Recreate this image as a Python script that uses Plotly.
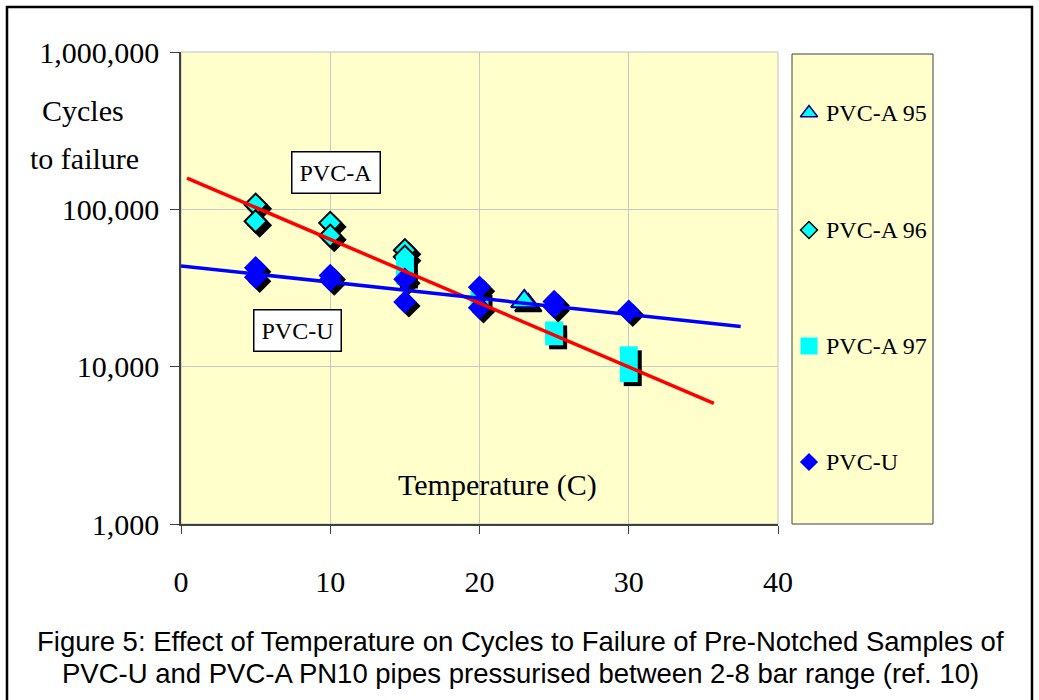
import numpy as np
import plotly.graph_objects as go

# ---------------- data ----------------
temp_a95 = [23]
cyc_a95 = [26000]

temp_a96 = [5, 5, 10, 10, 15, 15]
cyc_a96 = [107000, 84000, 82000, 68000, 55000, 50000]

temp_a97 = [15, 15, 20, 25, 25, 30, 30]
cyc_a97 = [44000, 38000, 26500, 17000, 15600, 11800, 9100]

temp_u = [5, 5, 10, 10, 15, 15, 20, 20, 25, 25, 30]
cyc_u = [42500, 37000, 38000, 35500, 36000, 25800, 32000, 23700, 26000, 24000, 22500]

# exponential trend lines  y = a * exp(b * T), drawn over a temperature range
trend_a_range = [0.4, 35.7]
trend_a_coef = [164000, -0.0934]
trend_u_range = [0.0, 37.5]
trend_u_coef = [43650, -0.02365]

x_ticks = [0, 10, 20, 30, 40]
y_ticks = [1000, 10000, 100000, 1000000]
y_tick_text = ["1,000", "10,000", "100,000", "1,000,000"]

legend_names = ["PVC-A 95", "PVC-A 96", "PVC-A 97", "PVC-U"]

# ---------------- layout geometry ----------------
W, H = 1039, 700
PL, PR, PT, PB = 181, 778, 52, 524          # plot area in pixels
LG_L, LG_R, LG_T, LG_B = 792, 933, 54, 524  # legend box in pixels

def px(x):
    return x / W

def py(y):
    return 1 - y / H

XR = [0, 40]
YR = [3, 6]
px_per_x = (PR - PL) / (XR[1] - XR[0])
px_per_dec = (PB - PT) / (YR[1] - YR[0])
SH = 4  # shadow offset in pixels
sh_dx = SH / px_per_x
sh_fy = 10 ** (-SH / px_per_dec)

CYAN = "#00FFFF"
BLUE = "#0000FF"
NAVY = "#000080"

fig = go.Figure()

def add_series(xs, ys, symbol, size, color, line_color, line_width):
    xs = np.array(xs, dtype=float)
    ys = np.array(ys, dtype=float)
    fig.add_trace(go.Scatter(
        x=xs + sh_dx, y=ys * sh_fy, mode="markers", showlegend=False,
        hoverinfo="skip",
        marker=dict(symbol=symbol, size=size, color="black",
                    line=dict(color="black", width=line_width)),
        xaxis="x", yaxis="y"))
    fig.add_trace(go.Scatter(
        x=xs, y=ys, mode="markers", showlegend=False,
        marker=dict(symbol=symbol, size=size, color=color,
                    line=dict(color=line_color, width=line_width)),
        xaxis="x", yaxis="y"))

add_series(temp_a95, cyc_a95, "triangle-up", 23, CYAN, NAVY, 2)
add_series(temp_a96, cyc_a96, "diamond", 17, CYAN, "black", 2)
add_series(temp_a97, cyc_a97, "square", 18, CYAN, CYAN, 0)
add_series(temp_u, cyc_u, "diamond", 18, BLUE, BLUE, 0)

for rng, coef, col in [(trend_a_range, trend_a_coef, "#FF0000"),
                       (trend_u_range, trend_u_coef, BLUE)]:
    tx = np.array(rng, dtype=float)
    ty = coef[0] * np.exp(coef[1] * tx)
    fig.add_trace(go.Scatter(x=tx, y=ty, mode="lines", showlegend=False,
                             hoverinfo="skip",
                             line=dict(color=col, width=3.5),
                             xaxis="x", yaxis="y"))

# ---------------- custom legend ----------------
leg_y_px = [113, 230, 346, 462]
leg_marker_x = (809 - LG_L) / (LG_R - LG_L)
leg_styles = [
    dict(symbol="triangle-up", size=15, color=CYAN, line=dict(color=NAVY, width=1.5)),
    dict(symbol="diamond", size=13, color=CYAN, line=dict(color="black", width=1.5)),
    dict(symbol="square", size=17, color=CYAN, line=dict(width=0)),
    dict(symbol="diamond", size=14, color=BLUE, line=dict(width=0)),
]
for name, ypx, st in zip(legend_names, leg_y_px, leg_styles):
    fig.add_trace(go.Scatter(x=[leg_marker_x], y=[(LG_B - ypx) / (LG_B - LG_T)],
                             mode="markers", marker=st, showlegend=False,
                             hoverinfo="skip", xaxis="x2", yaxis="y2"))

annotations = []
for name, ypx in zip(legend_names, leg_y_px):
    annotations.append(dict(x=px(824), y=py(ypx), xref="paper", yref="paper",
                            text=name, showarrow=False, xanchor="left",
                            yanchor="middle",
                            font=dict(family="Liberation Serif", size=24, color="black")))

serif = "Liberation Serif"

def label(xp, yp, text, size, family=serif, **kw):
    d = dict(x=px(xp), y=py(yp), xref="paper", yref="paper", text=text,
             showarrow=False, xanchor="center", yanchor="middle",
             font=dict(family=family, size=size, color="black"))
    d.update(kw)
    return d

annotations += [
    label(83, 110, "Cycles", 30),
    label(84, 158, "to failure", 30),
    label(497, 485, "Temperature (C)", 30),
    label(336, 172, "PVC-A", 24, bgcolor="white", bordercolor="black",
          borderwidth=1.5, borderpad=7),
    label(297, 330, "PVC-U", 24, bgcolor="white", bordercolor="black",
          borderwidth=1.5, borderpad=7),
    label(520, 641,
          "Figure 5: Effect of Temperature on Cycles to Failure of Pre-Notched Samples of",
          27.5, family="Liberation Sans"),
    label(520, 673,
          "PVC-U and PVC-A PN10 pipes pressurised between 2-8 bar range (ref. 10)",
          27.5, family="Liberation Sans"),
]

shapes = [
    # outer frame
    dict(type="rect", xref="paper", yref="paper", x0=px(7), x1=px(1032),
         y0=-0.02, y1=py(7), line=dict(color="black", width=2.5)),
    # legend box
    dict(type="rect", xref="paper", yref="paper", x0=px(LG_L), x1=px(LG_R),
         y0=py(LG_B), y1=py(LG_T), fillcolor="#FFFFCC",
         line=dict(color="#404040", width=1), layer="below"),
    # plot area light border (top / right)
    dict(type="rect", xref="paper", yref="paper", x0=px(PL), x1=px(PR),
         y0=py(PB), y1=py(PT), line=dict(color="#C0C0C0", width=1), layer="below"),
]

fig.update_layout(
    width=W, height=H,
    autosize=False,
    margin=dict(l=0, r=0, t=0, b=0, pad=0, autoexpand=False),
    paper_bgcolor="white",
    plot_bgcolor="#FFFFCC",
    showlegend=False,
    xaxis=dict(domain=[px(PL), px(PR)], range=XR, tickvals=x_ticks,
               automargin=False,
               ticks="outside", ticklen=8, tickcolor="#404040",
               showline=True, linecolor="#404040", linewidth=1.5,
               showgrid=True, gridcolor="#C8C8C8", gridwidth=1,
               zeroline=False, ticklabelstandoff=22,
               tickfont=dict(family=serif, size=30, color="black")),
    yaxis=dict(domain=[py(PB), py(PT)], type="log", range=YR,
               tickvals=y_ticks, ticktext=y_tick_text, automargin=False,
               ticks="outside", ticklen=9, tickcolor="#404040",
               showline=True, linecolor="#404040", linewidth=1.5,
               showgrid=True, gridcolor="#C8C8C8", gridwidth=1,
               zeroline=False, ticklabelstandoff=5,
               tickfont=dict(family=serif, size=30, color="black")),
    xaxis2=dict(domain=[px(LG_L), px(LG_R)], range=[0, 1], visible=False,
                anchor="y2", automargin=False),
    yaxis2=dict(domain=[py(LG_B), py(LG_T)], range=[0, 1], visible=False,
                anchor="x2", automargin=False),
    annotations=annotations,
    shapes=shapes,
)

fig.write_html("out.html",
               config={"responsive": False},
               post_script="document.body.style.margin='0';document.body.style.overflow='hidden';")
